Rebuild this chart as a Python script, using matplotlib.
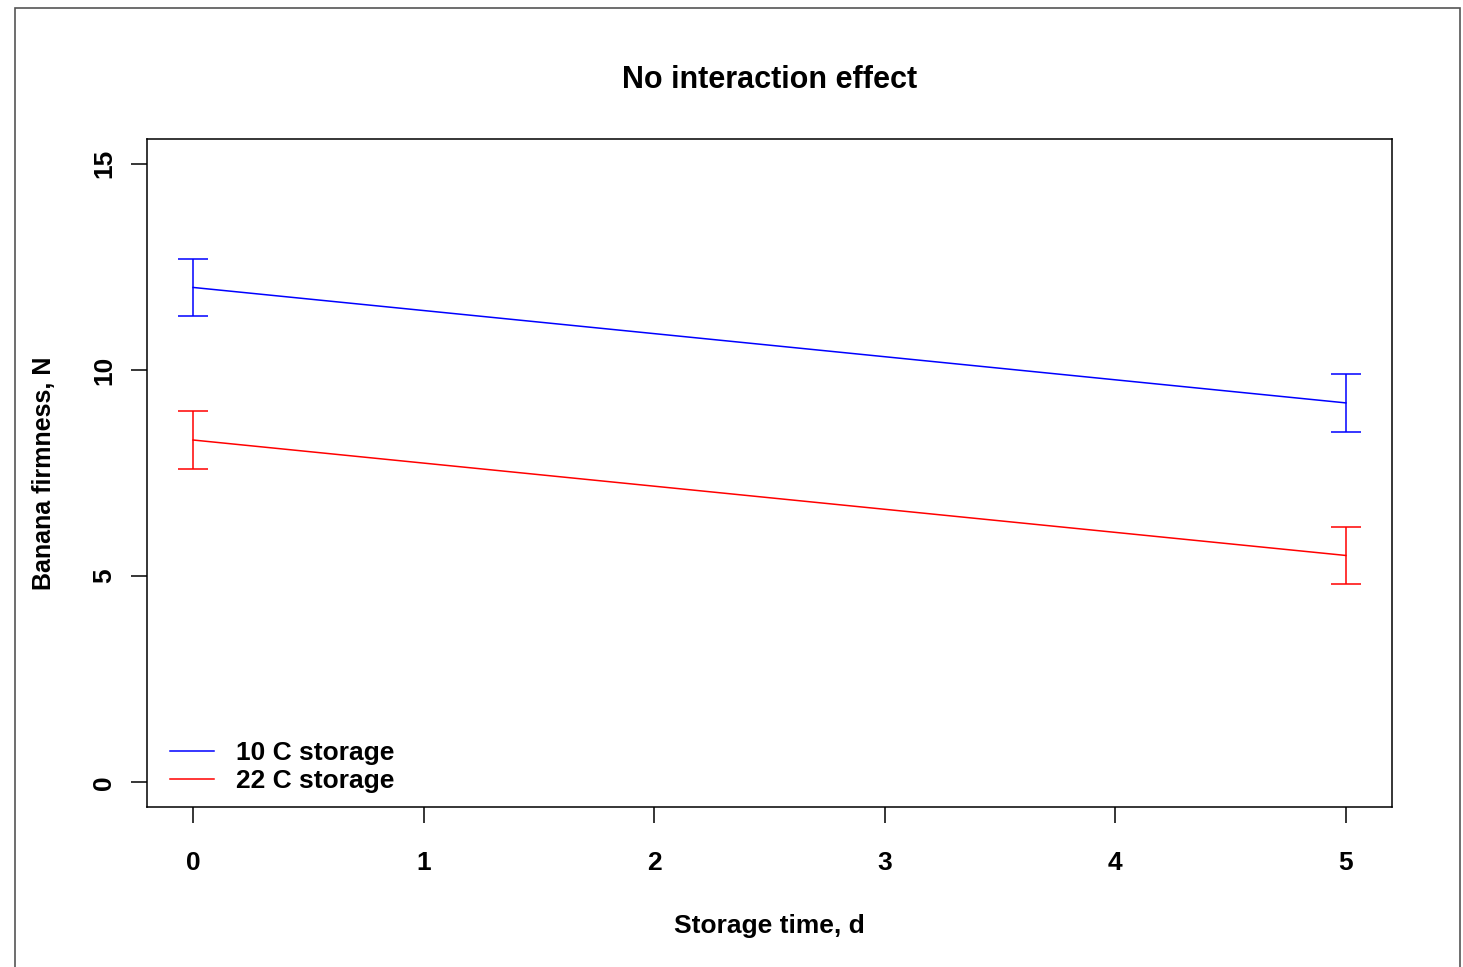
import matplotlib
matplotlib.use("Agg")
import matplotlib.pyplot as plt
from matplotlib.patches import Rectangle

# data
days = [0, 5]
firm_10c = [12.0, 9.2]
firm_22c = [8.3, 5.5]
err_10c = [0.7, 0.7]
err_22c = [0.7, 0.7]
series_labels = ["10 C storage", "22 C storage"]
xticks = [0, 1, 2, 3, 4, 5]
yticks = [0, 5, 10, 15]

plt.rcParams['font.family'] = ['Liberation Sans', 'DejaVu Sans']
plt.rcParams['font.weight'] = 'bold'

fig = plt.figure(figsize=(14.63, 9.67), dpi=100)
# outer grey frame of the figure region
fig.patches.append(Rectangle((15/1463, -0.05), 1445/1463, 1.05 - 8/967, transform=fig.transFigure,
                             fill=False, edgecolor='#555555', linewidth=1.2))

ax = fig.add_axes([147/1463, 1 - 807/967, (1392-147)/1463, (807-139)/967])

ax.errorbar(days, firm_10c, yerr=err_10c, color='#0000FF', lw=1.1, capsize=11, capthick=1.1, label=series_labels[0])
ax.errorbar(days, firm_22c, yerr=err_22c, color='#FF0000', lw=1.1, capsize=11, capthick=1.1, label=series_labels[1])

ax.set_xlim(-0.2, 5.2)
ax.set_ylim(-0.6, 15.6)
ax.set_xticks(xticks)
ax.set_yticks(yticks)
ax.tick_params(direction='out', length=11.5, width=1.1, labelsize=19, pad=20)
ax.tick_params(axis='y', pad=10.5)
for lab in ax.get_yticklabels():
    lab.set_rotation(90)
    lab.set_va('center')
for s in ax.spines.values():
    s.set_linewidth(1.1)

ax.set_title("No interaction effect", fontsize=22, fontweight='bold', pad=37)
ax.set_xlabel("Storage time, d", fontsize=19, fontweight='bold', labelpad=28)
ax.set_ylabel("Banana firmness, N", fontsize=18, fontweight='bold', labelpad=26)

h, l = ax.get_legend_handles_labels()
h = [x[0] for x in h]
ax.legend(h, l, loc='lower left', frameon=False, fontsize=19, handlelength=1.7,
          handletextpad=0.83, labelspacing=0.15, borderaxespad=0.0,
          bbox_to_anchor=(12/1245, 0.005))

fig.savefig("out.png", dpi=100)
